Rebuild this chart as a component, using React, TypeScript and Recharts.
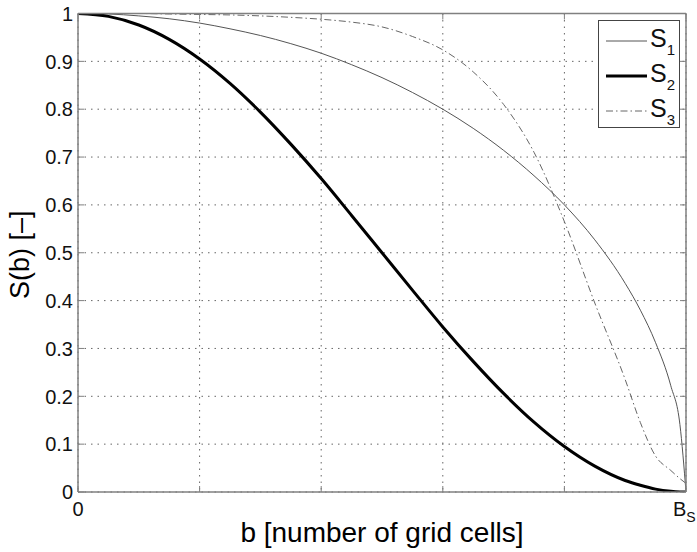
import React from "react";
import { LineChart, Line, XAxis, YAxis, CartesianGrid, Legend } from "recharts";

// values (b in fifths of B_S)
const bValues = [0, 0.25, 0.5, 0.75, 1, 1.25, 1.5, 1.75, 2, 2.25, 2.5, 2.75, 3, 3.25, 3.5, 3.75, 4, 4.25, 4.5, 4.625, 4.75, 4.875, 4.95, 5];
const s1Values = [1, 0.999, 0.995, 0.989, 0.98, 0.968, 0.954, 0.937, 0.917, 0.893, 0.866, 0.835, 0.8, 0.76, 0.714, 0.661, 0.6, 0.527, 0.436, 0.38, 0.312, 0.222, 0.141, 0];
const s2Values = [1, 0.994, 0.976, 0.946, 0.905, 0.854, 0.794, 0.727, 0.655, 0.578, 0.5, 0.422, 0.345, 0.273, 0.206, 0.146, 0.095, 0.054, 0.024, 0.014, 0.006, 0.0015, 0.0002, 0];
const s3Values = [1, 1, 1, 0.999, 0.998, 0.997, 0.995, 0.992, 0.988, 0.982, 0.972, 0.952, 0.924, 0.878, 0.81, 0.71, 0.565, 0.395, 0.235, 0.145, 0.075, 0.045, 0.028, 0.018];

const xTicks = [0, 1, 2, 3, 4, 5];
const xTickLabels = ["0", "", "", "", "", "B_S"];
const yTicks = [0, 0.1, 0.2, 0.3, 0.4, 0.5, 0.6, 0.7, 0.8, 0.9, 1];
const yTickLabels = ["0", "0.1", "0.2", "0.3", "0.4", "0.5", "0.6", "0.7", "0.8", "0.9", "1"];

const data = bValues.map((b, i) => ({ b, s1: s1Values[i], s2: s2Values[i], s3: s3Values[i] }));

const FONT = '"Liberation Sans", Arial, sans-serif';
const FRAME = "#808080";

const seriesStyle: Record<string, { sub: string; stroke: string; width: number; dash?: string }> = {
  s1: { sub: "1", stroke: "#555555", width: 1 },
  s2: { sub: "2", stroke: "#000000", width: 3 },
  s3: { sub: "3", stroke: "#666666", width: 1, dash: "7 3 1.5 3" },
};

const XTick = ({ x, y, payload }: any) => {
  const idx = xTicks.findIndex((t) => Math.abs(t - payload.value) < 1e-6);
  const label = idx >= 0 ? xTickLabels[idx] : "";
  if (!label) return <g />;
  if (label === "B_S") {
    return (
      <text x={x - 13} y={y} dy="0.71em" textAnchor="start" fontSize={20} fill="#111" fontFamily={FONT}>
        <tspan>B</tspan>
        <tspan fontSize={14} dy={6}>S</tspan>
      </text>
    );
  }
  return (
    <text x={x} y={y} dy="0.71em" textAnchor="middle" fontSize={20} fill="#111" fontFamily={FONT}>
      {label}
    </text>
  );
};

const YTick = ({ x, y, payload }: any) => {
  const idx = yTicks.findIndex((t) => Math.abs(t - payload.value) < 1e-6);
  return (
    <text x={x} y={y} dy="0.36em" textAnchor="end" fontSize={20} fill="#111" fontFamily={FONT}>
      {idx >= 0 ? yTickLabels[idx] : ""}
    </text>
  );
};

const EmptyTick = () => <g />;

const YLabel = ({ viewBox }: any) => {
  const cx = viewBox.x + 20;
  const cy = viewBox.y + viewBox.height / 2 + 2;
  return (
    <text x={cx} y={cy} transform={`rotate(-90 ${cx} ${cy})`} textAnchor="middle" dominantBaseline="central" fontSize={27} fill="#000" fontFamily={FONT}>
      S(b) [–]
    </text>
  );
};

const LegendBox = ({ payload }: any) => (
  <div style={{ width: 82, height: 108, border: "1px solid #444", background: "#fff", boxSizing: "border-box" }}>
    <svg width={80} height={106} style={{ display: "block" }}>
      {(payload || []).map((entry: any, i: number) => {
        const st = seriesStyle[entry.dataKey];
        if (!st) return null;
        const cy = 20 + 35 * i;
        return (
          <g key={entry.dataKey}>
            <line x1={7} x2={48} y1={cy} y2={cy} stroke={st.stroke} strokeWidth={st.width} strokeDasharray={st.dash} />
            <text x={51} y={cy + 6} fontSize={25} fill="#111" fontFamily={FONT}>
              <tspan>S</tspan>
              <tspan fontSize={15} dy={8}>{st.sub}</tspan>
            </text>
          </g>
        );
      })}
    </svg>
  </div>
);

export default function App() {
  return (
    <div style={{ position: "fixed", left: 0, top: 0, width: 697, height: 552, background: "#fff" }}>
      <LineChart width={697} height={552} data={data} margin={{ top: 13.5, right: 11, left: 0, bottom: 0 }}>
        <CartesianGrid xAxisId="b" yAxisId="s" stroke="#666" strokeDasharray="1.5 5" />
        <XAxis
          xAxisId="b"
          dataKey="b"
          type="number"
          domain={[0, 5]}
          ticks={xTicks}
          allowDataOverflow
          height={60}
          tickLine={false}
          tickSize={0}
          tickMargin={10}
          axisLine={{ stroke: FRAME, strokeWidth: 1.5 }}
          tick={<XTick />}
          label={{ value: "b [number of grid cells]", position: "insideBottom", offset: 10, fontSize: 28, fill: "#000", fontFamily: FONT }}
        />
        <XAxis xAxisId="bIn" dataKey="b" type="number" domain={[0, 5]} ticks={xTicks} allowDataOverflow mirror height={1} axisLine={false} tickLine={{ stroke: FRAME }} tickSize={6} tick={EmptyTick} />
        <XAxis xAxisId="top" dataKey="b" orientation="top" type="number" domain={[0, 5]} ticks={xTicks} allowDataOverflow mirror height={1} axisLine={{ stroke: FRAME, strokeWidth: 1.5 }} tickLine={{ stroke: FRAME }} tickSize={6} tick={EmptyTick} />
        <YAxis
          yAxisId="s"
          type="number"
          domain={[0, 1]}
          ticks={yTicks}
          allowDataOverflow
          width={78}
          tickLine={false}
          tickSize={0}
          tickMargin={5}
          axisLine={{ stroke: FRAME, strokeWidth: 1.5 }}
          tick={<YTick />}
          label={<YLabel />}
        />
        <YAxis yAxisId="lIn" type="number" domain={[0, 1]} ticks={yTicks} allowDataOverflow mirror width={1} axisLine={false} tickLine={{ stroke: FRAME }} tickSize={6} tick={EmptyTick} />
        <YAxis yAxisId="rIn" orientation="right" type="number" domain={[0, 1]} ticks={yTicks} allowDataOverflow mirror width={1} axisLine={{ stroke: FRAME, strokeWidth: 1.5 }} tickLine={{ stroke: FRAME }} tickSize={6} tick={EmptyTick} />
        <Legend layout="vertical" align="center" verticalAlign="middle" wrapperStyle={{ left: 598, top: 20, width: 82, height: 108 }} content={<LegendBox />} />
        {Object.keys(seriesStyle).map((key) => (
          <Line
            key={key}
            xAxisId="b"
            yAxisId="s"
            type="monotone"
            dataKey={key}
            name={`S${seriesStyle[key].sub}`}
            stroke={seriesStyle[key].stroke}
            strokeWidth={seriesStyle[key].width}
            strokeDasharray={seriesStyle[key].dash}
            dot={false}
            activeDot={false}
            isAnimationActive={false}
          />
        ))}
      </LineChart>
    </div>
  );
}
